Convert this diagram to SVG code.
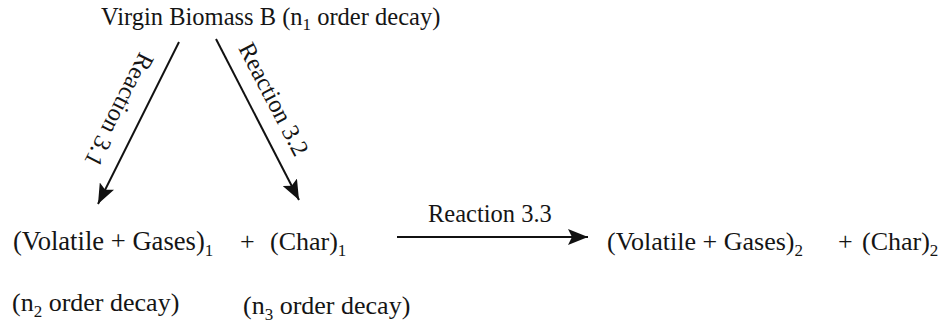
<svg xmlns="http://www.w3.org/2000/svg" width="943" height="328" viewBox="0 0 943 328">
<style>
text{font-family:"Liberation Serif","Times New Roman",serif;fill:#151515;}
.t{font-size:26px;}
.l{font-size:24.5px;}
.s{font-size:17px;}
.c{stroke:#111;stroke-width:2;fill:none;}
</style>
<defs>
<marker id="ah" markerWidth="22" markerHeight="16" refX="20" refY="8" orient="auto" markerUnits="userSpaceOnUse">
<path d="M0,0 L20,8 L0,16 L4,8 Z" fill="#111"/>
</marker>
</defs>
<rect width="943" height="328" fill="#fff"/>
<g id="connectors">
<line class="c" x1="179" y1="42" x2="98" y2="204" marker-end="url(#ah)"/>
<line class="c" x1="216" y1="39" x2="299" y2="200" marker-end="url(#ah)"/>
<line class="c" x1="397" y1="237" x2="588" y2="237" marker-end="url(#ah)"/>
<text class="l" transform="translate(140,51) rotate(116.9)">Reaction 3.1</text>
<text class="l" transform="translate(238,48) rotate(62.5)">Reaction 3.2</text>
<text class="l" x="428" y="222">Reaction 3.3</text>
</g>
<g id="biomass">
<text class="l" x="101" y="25">Virgin Biomass B (n<tspan class="s" dy="5">1</tspan><tspan dy="-5"> order decay)</tspan></text>
</g>
<g id="volatile1">
<text class="t" x="13" y="250" style="font-size:26.6px">(Volatile + Gases)<tspan class="s" dy="6">1</tspan></text>
</g>
<g id="plus1">
<text class="t" x="240" y="250">+</text>
</g>
<g id="char1">
<text class="t" x="270" y="250">(Char)<tspan class="s" dy="6">1</tspan></text>
</g>
<g id="volatile2">
<text class="t" x="607" y="250">(Volatile + Gases)<tspan class="s" dy="6">2</tspan></text>
</g>
<g id="plus2">
<text class="t" x="838" y="250">+</text>
</g>
<g id="char2">
<text class="t" x="862" y="250">(Char)<tspan class="s" dy="6">2</tspan></text>
</g>
<g id="decay2">
<text class="t" x="12" y="311">(n<tspan class="s" dy="6">2</tspan><tspan dy="-6"> order decay)</tspan></text>
</g>
<g id="decay3">
<text class="t" x="243" y="314">(n<tspan class="s" dy="6">3</tspan><tspan dy="-6"> order decay)</tspan></text>
</g>
</svg>
